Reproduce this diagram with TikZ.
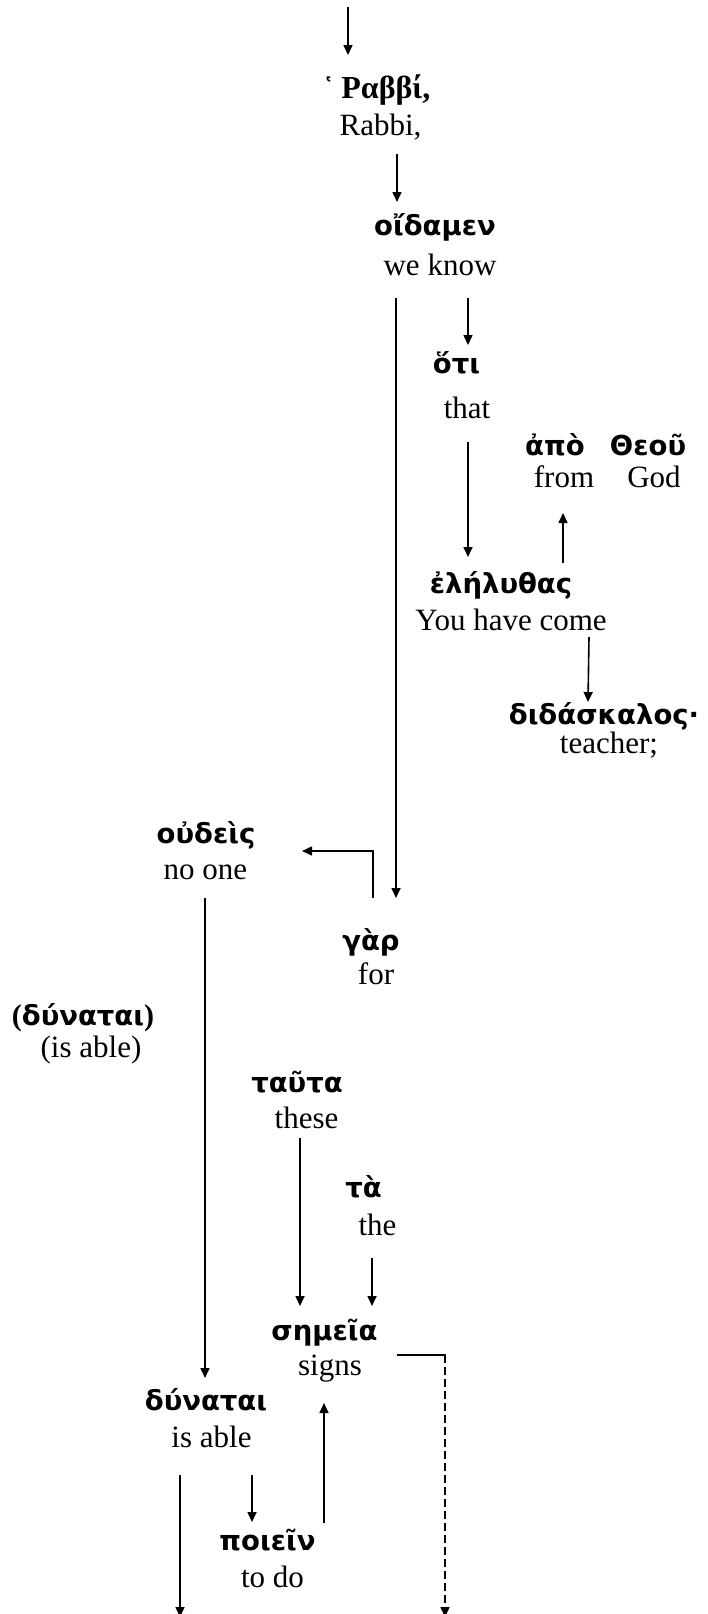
\documentclass[tikz,border=0pt]{standalone}
\usepackage{fontspec}
\setmainfont{Liberation Serif}
\newfontfamily\gk{DejaVu Sans}
\usetikzlibrary{calc,arrows.meta}

\begin{document}
\begin{tikzpicture}[x=1pt,y=-1pt,
  gr/.style={anchor=base,inner sep=0pt,font=\gk\bfseries\fontsize{27.5}{32}\selectfont},
  en/.style={anchor=base,inner sep=0pt,font=\fontsize{31}{36}\selectfont},
  link/.style={line width=1.6pt},
  arr/.style={link,-{Triangle[length=10pt,width=9pt]}},
  dashlink/.style={arr,dash pattern=on 8pt off 4pt}]
\useasboundingbox (0,0) rectangle (707,1614);

% Greek words (bold) with their English glosses underneath
\node[gr] (g1) at (376,98) {῾\hspace{6pt}{\rmfamily\fontsize{32}{36}\selectfont Ραββί,}};
\node[en] (e1) at (380.5,135) {Rabbi,};
\node[gr] (g2) at (435,235) {οἴδαμεν};
\node[en] (e2) at (440,275) {we know};
\node[gr] (g3) at (456.5,373) {ὅτι};
\node[en] (e3) at (467,418) {that};
\node[gr] (g4a) at (555,455) {ἀπὸ};
\node[gr] (g4b) at (648,455) {Θεοῦ};
\node[en] (e4a) at (564,487) {from};
\node[en] (e4b) at (654,487) {God};
\node[gr] (g5) at (501,593) {ἐλήλυθας};
\node[en] (e5) at (511,630) {You have come};
\node[gr] (g6) at (604,724) {διδάσκαλος·};
\node[en] (e6) at (609,753) {teacher;};
\node[gr] (g7) at (206,843) {οὐδεὶς};
\node[en] (e7) at (205.5,879) {no one};
\node[gr] (g8) at (371,950) {γὰρ};
\node[en] (e8) at (376,984) {for};
\node[gr] (g9) at (83,1025) {{\rmfamily\fontsize{30}{34}\selectfont(}δύναται{\rmfamily\fontsize{30}{34}\selectfont)}};
\node[en] (e9) at (91,1057) {(is able)};
\node[gr] (g10) at (297,1092) {ταῦτα};
\node[en] (e10) at (306.5,1128) {these};
\node[gr] (g11) at (363.5,1197) {τὰ};
\node[en] (e11) at (377.5,1235) {the};
\node[gr] (g12) at (324.5,1340) {σημεῖα};
\node[en] (e12) at (330,1375) {signs};
\node[gr] (g13) at (206,1410) {δύναται};
\node[en] (e13) at (211.5,1447) {is able};
\node[gr] (g14) at (267.5,1550) {ποιεῖν};
\node[en] (e14) at (272.5,1587) {to do};

% free ends of the connectors that leave the page
\coordinate (in) at (348,7);
\coordinate (out1) at (180,1617);
\coordinate (out2) at (445,1617);

% connectors
\draw[arr] (in) -- ($(g1.base)+(-28,-43)$);
\draw[arr] ($(e1.base)+(16.5,19)$) -- ($(g2.base)+(-38,-33)$);
\draw[arr] ($(e2.base)+(28,23)$) -- ($(g3.base)+(11.5,-28)$);
\draw[arr] ($(e2.base)+(-44,23)$) -- ($(g8.base)+(25,-52)$);
\draw[arr] ($(e3.base)+(1,24)$) -- ($(g5.base)+(-33,-36)$);
\draw[arr] ($(g5.base)+(62,-30)$) -- ($(e4a.base)+(-1,26)$);
\draw[arr] ($(e5.base)+(78,7)$) -- ($(g6.base)+(-16,-22)$);
\draw[arr] ($(g8.base)+(2,-52)$) |- ($(g7.base)+(96,8)$);
\draw[arr] ($(e7.base)+(-0.5,19)$) -- ($(g13.base)+(-1,-32)$);
\draw[arr] ($(e10.base)+(-6.5,10)$) -- ($(g12.base)+(-24.5,-34)$);
\draw[arr] ($(e11.base)+(-5.5,23)$) -- ($(g12.base)+(47.5,-34)$);
\coordinate (sigturn) at ($(e12.base)+(67,-20)$);
\draw[link] (sigturn) -- ([xshift=0.8pt]sigturn -| out2);
\draw[dashlink] (sigturn -| out2) -- (out2);
\draw[arr] ($(e13.base)+(-31.5,28)$) -- (out1);
\draw[arr] ($(e13.base)+(40.5,28)$) -- ($(g14.base)+(-15.5,-28)$);
\draw[arr] ($(g14.base)+(56.5,-27)$) -- ($(e12.base)+(-6,28)$);
\end{tikzpicture}
\end{document}
